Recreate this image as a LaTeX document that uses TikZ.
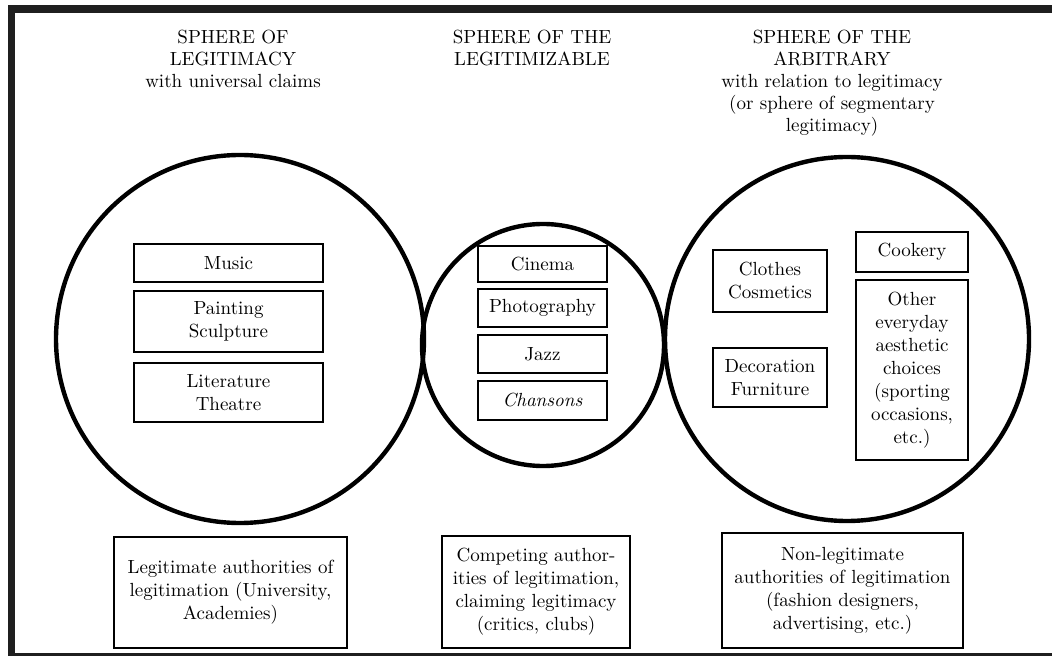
\documentclass[tikz,border=0pt]{standalone}
\begin{document}
\begin{tikzpicture}[x=0.5pt,y=-0.5pt]
		\tikzset{sphere/.style = {shape=circle,draw,line width=2.2pt,inner sep=0pt}}
		\tikzset{field/.style = {draw,line width=1.1pt,inner sep=0pt,align=center,
				font=\fontsize{9.5}{11.5}\selectfont}}
		\tikzset{heading/.style = {inner sep=0pt,align=center,anchor=north,
				font=\fontsize{9.5}{11}\selectfont}}
		\tikzset{frame/.style = {fill=black!88}}
		\useasboundingbox (0,0) rectangle (1052,656);
		% frame
		\fill[frame] (8,5.5) rectangle (1052,13);
		\fill[frame] (8,5.5) rectangle (15,656);
		\fill[frame] (8,653) rectangle (1052,656);
		% spheres
		\node[sphere,minimum size=184pt] (legit) at (240,339) {};
		\node[sphere,minimum size=121pt] (legitz) at (543,345) {};
		\node[sphere,minimum size=182pt] (arbit) at (847,339) {};
		% headings
		\node[heading] (legith) at (233,30) {SPHERE OF\\LEGITIMACY\\with universal claims};
		\node[heading] (legitzh) at (532,30) {SPHERE OF THE\\LEGITIMIZABLE};
		\node[heading] (arbith) at (832,30) {SPHERE OF THE\\ARBITRARY\\with relation to legitimacy\\(or sphere of segmentary\\legitimacy)};
		% practices
		\node[field,minimum width=94.5pt,minimum height=19pt] (music) at (228.5,263) {Music};
		\node[field,minimum width=94.5pt,minimum height=30.5pt] (paint) at (228.5,321.5) {Painting\\Sculpture};
		\node[field,minimum width=94.5pt,minimum height=29.5pt] (lit) at (228.5,392.5) {Literature\\Theatre};
		\node[field,minimum width=64.5pt,minimum height=18pt] (cinema) at (542.5,264) {Cinema};
		\node[field,minimum width=64.5pt,minimum height=19pt] (photo) at (542.5,308) {Photography};
		\node[field,minimum width=64.5pt,minimum height=19pt] (jazz) at (542.5,354) {Jazz};
		\node[field,minimum width=64.5pt,minimum height=19.5pt] (chanson) at (542.5,400.5) {\itshape Chansons};
		\node[field,minimum width=57pt,minimum height=31pt] (clothes) at (770,281) {Clothes\\Cosmetics};
		\node[field,minimum width=57pt,minimum height=29.5pt] (decor) at (770,377.5) {Decoration\\Furniture};
		\node[field,minimum width=56pt,minimum height=20pt] (cook) at (912,252) {Cookery};
		\node[field,minimum width=56pt,minimum height=90pt] (other) at (912,370) {Other\\everyday\\aesthetic\\choices\\(sporting\\occasions,\\etc.)};
		% authorities
		\node[field,minimum width=116.5pt,minimum height=55.5pt] (legita) at (230.5,592.5) {Legitimate authorities of\\legitimation (University,\\Academies)};
		\node[field,minimum width=94pt,minimum height=56pt] (legitza) at (536,592) {Competing author-\\ities of legitimation,\\claiming legitimacy\\(critics, clubs)};
		\node[field,minimum width=120.5pt,minimum height=57.5pt] (arbita) at (842.5,590.5) {Non-legitimate\\authorities of legitimation\\(fashion designers,\\advertising, etc.)};
\end{tikzpicture}
\end{document}
